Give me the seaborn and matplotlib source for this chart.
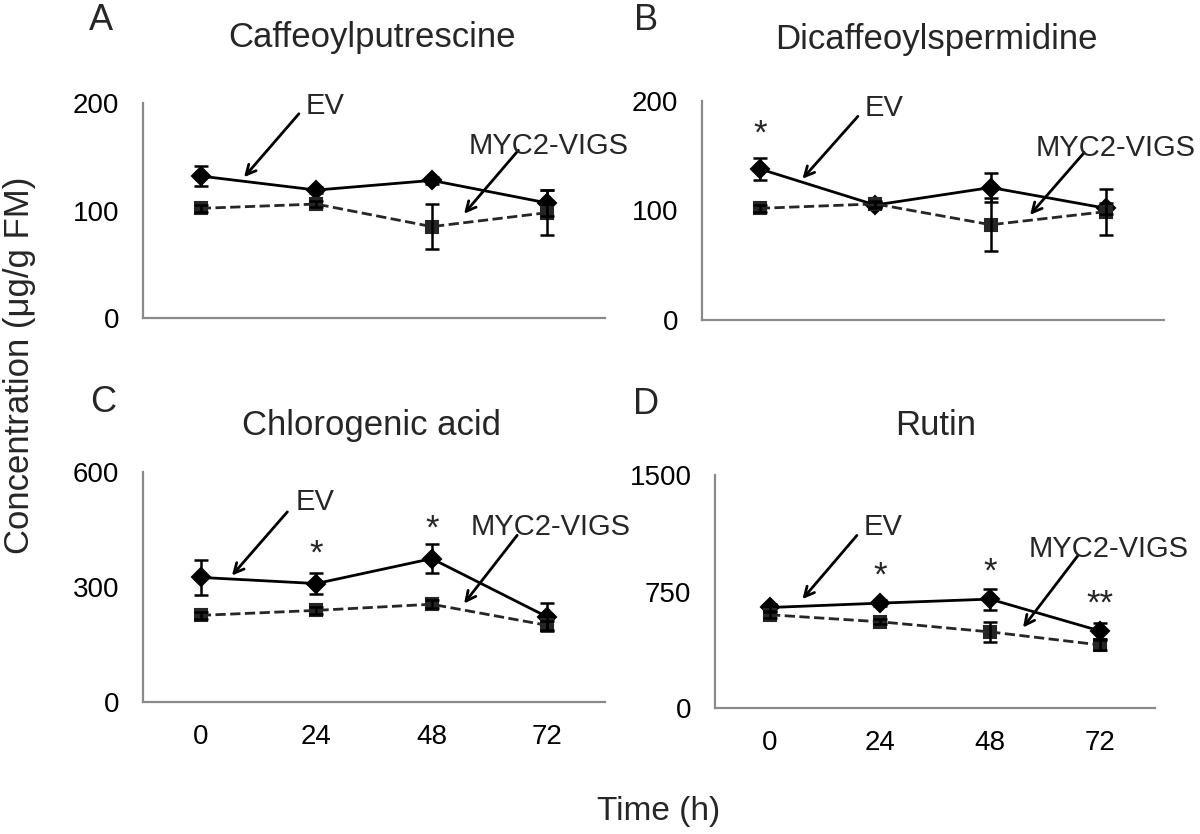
import numpy as np
import pandas as pd
import matplotlib
matplotlib.use('Agg')
import matplotlib.pyplot as plt
import seaborn as sns

# ---------------- data ----------------
times = ['0', '24', '48', '72']
groups = ['EV', 'MYC2-VIGS']

caff_ev = [132, 119, 128, 107]
caff_ev_err = [9, 3, 3, 12]
caff_myc = [102, 106, 85, 98]
caff_myc_err = [3, 3, 21, 21]

dicaff_ev = [138, 105, 121, 102]
dicaff_ev_err = [10, 3, 13, 5]
dicaff_myc = [102, 106, 87, 99]
dicaff_myc_err = [3, 3, 24, 21]

chlor_ev = [325, 309, 374, 222]
chlor_ev_err = [46, 27, 38, 37]
chlor_myc = [226, 239, 255, 200]
chlor_myc_err = [10, 9, 10, 11]

rutin_ev = [647, 675, 701, 496]
rutin_ev_err = [25, 20, 68, 50]
rutin_myc = [600, 555, 490, 406]
rutin_myc_err = [18, 15, 62, 30]

titles = ['Caffeoylputrescine', 'Dicaffeoylspermidine', 'Chlorogenic acid', 'Rutin']
letters = ['A', 'B', 'C', 'D']
yticks_list = [[0, 100, 200], [0, 100, 200], [0, 300, 600], [0, 750, 1500]]

# significance marks: panel index, time index, text, y value
star_panel = [1, 2, 2, 3, 3, 3]
star_time = [0, 1, 2, 1, 2, 3]
star_text = ['*', '*', '*', '*', '*', '**']
star_y = [170, 387, 452, 846, 878, 669]

# ---------------- style ----------------
sns.set_style('white')
plt.rcParams['font.family'] = ['Liberation Sans', 'DejaVu Sans']

W, H = 1200, 834
fig = plt.figure(figsize=(W / 100, H / 100), dpi=100)

# axes rectangles in pixels: left, top, right, bottom
rects = [(143, 103, 605, 318), (702, 101, 1164, 320),
         (143, 472, 605, 702), (715, 475, 1155, 708)]

panel_data = [
    (caff_ev, caff_ev_err, caff_myc, caff_myc_err),
    (dicaff_ev, dicaff_ev_err, dicaff_myc, dicaff_myc_err),
    (chlor_ev, chlor_ev_err, chlor_myc, chlor_myc_err),
    (rutin_ev, rutin_ev_err, rutin_myc, rutin_myc_err),
]

# annotation layout (category position, data y)
ev_text = [(0.91, 190), (0.91, 186), (0.82, 500), (0.855, 1111)]
ev_tail = [(0.85, 190), (0.85, 186), (0.75, 496), (0.79, 1111)]
ev_head = [(0.375, 131), (0.37, 129), (0.27, 330), (0.295, 701)]
myc_text = [(2.32, 153), (2.39, 150), (2.34, 435), (2.35, 971)]
myc_tail = [(2.75, 156), (2.81, 153), (2.74, 435), (2.80, 982)]
myc_head = [(2.28, 97), (2.34, 96), (2.28, 257), (2.30, 518)]

letter_pos = [(101, 20), (646, 20), (103, 402), (646, 404)]
title_pos = [(372, 38), (936, 40), (372, 425), (936, 425)]

gray = '#8a8a8a'

for i in range(4):
    l, t, r, b = rects[i]
    ax = fig.add_axes([l / W, 1 - b / H, (r - l) / W, (b - t) / H])
    ev, ev_err, myc, myc_err = panel_data[i]
    df = pd.DataFrame({
        'time': times * 2,
        'value': list(ev) + list(myc),
        'group': [groups[0]] * 4 + [groups[1]] * 4,
    })
    sns.pointplot(data=df, x='time', y='value', hue='group', order=times,
                  hue_order=groups, palette=['black', '#262626'],
                  markers=['D', 's'], linestyles=['-', '--'],
                  errorbar=None, dodge=False, legend=False, ax=ax,
                  markersize=9, linewidth=2.0)
    pos = np.arange(len(times))
    ax.errorbar(pos, ev, yerr=ev_err, fmt='none', ecolor='black',
                elinewidth=1.8, capsize=5, capthick=1.8, zorder=4)
    ax.errorbar(pos, myc, yerr=myc_err, fmt='none', ecolor='black',
                elinewidth=1.8, capsize=5, capthick=1.8, zorder=4)

    yt = yticks_list[i]
    ax.set_ylim(yt[0], yt[-1])
    ax.set_yticks(yt)
    ax.set_yticklabels([str(v) for v in yt])
    ax.set_xlim(-0.5, len(times) - 0.5)
    ax.set_xticks(np.arange(len(times) + 1) - 0.5)
    ax.set_xticklabels([])
    if i >= 2:
        ax.set_xticks(pos, minor=True)
        ax.set_xticklabels(times, minor=True)
        ax.tick_params(axis='x', which='minor', length=0, pad=16,
                       labelsize=20, labelcolor='black')
    ax.set_xlabel('')
    ax.set_ylabel('')
    sns.despine(ax=ax)
    for s in ['left', 'bottom']:
        ax.spines[s].set_color(gray)
        ax.spines[s].set_linewidth(1.6)
    ax.tick_params(axis='both', which='major', direction='out', length=7,
                   width=1.6, color=gray, labelsize=20, labelcolor='black')
    ax.tick_params(axis='y', pad=10)
    ax.patch.set_alpha(0)

    # arrows and labels
    arrow_kw = dict(arrowstyle='->,head_length=0.7,head_width=0.35',
                    lw=2.0, color='black', shrinkA=0, shrinkB=0)
    ax.annotate('', xy=ev_head[i], xytext=ev_tail[i], arrowprops=arrow_kw,
                annotation_clip=False)
    ax.annotate('', xy=myc_head[i], xytext=myc_tail[i], arrowprops=arrow_kw,
                annotation_clip=False)
    ax.text(ev_text[i][0], ev_text[i][1], groups[0], fontsize=21,
            ha='left', va='baseline', clip_on=False)
    ax.text(myc_text[i][0], myc_text[i][1], groups[1], fontsize=21,
            ha='left', va='baseline', clip_on=False)

    for p, tx, st, sy in zip(star_panel, star_time, star_text, star_y):
        if p == i:
            ax.text(tx, sy, st, fontsize=25, ha='center', va='center',
                    clip_on=False)

    fig.text(letter_pos[i][0] / W, 1 - letter_pos[i][1] / H, letters[i],
             fontsize=26, ha='center', va='center')
    fig.text(title_pos[i][0] / W, 1 - title_pos[i][1] / H, titles[i],
             fontsize=25, ha='center', va='center')

fig.text(20 / W, 1 - 365 / H, 'Concentration (μg/g FM)', fontsize=25,
         rotation=90, ha='center', va='center')
fig.text(659 / W, 1 - 820 / H, 'Time (h)', fontsize=24, ha='center',
         va='baseline')

fig.savefig('out.png', dpi=100)
